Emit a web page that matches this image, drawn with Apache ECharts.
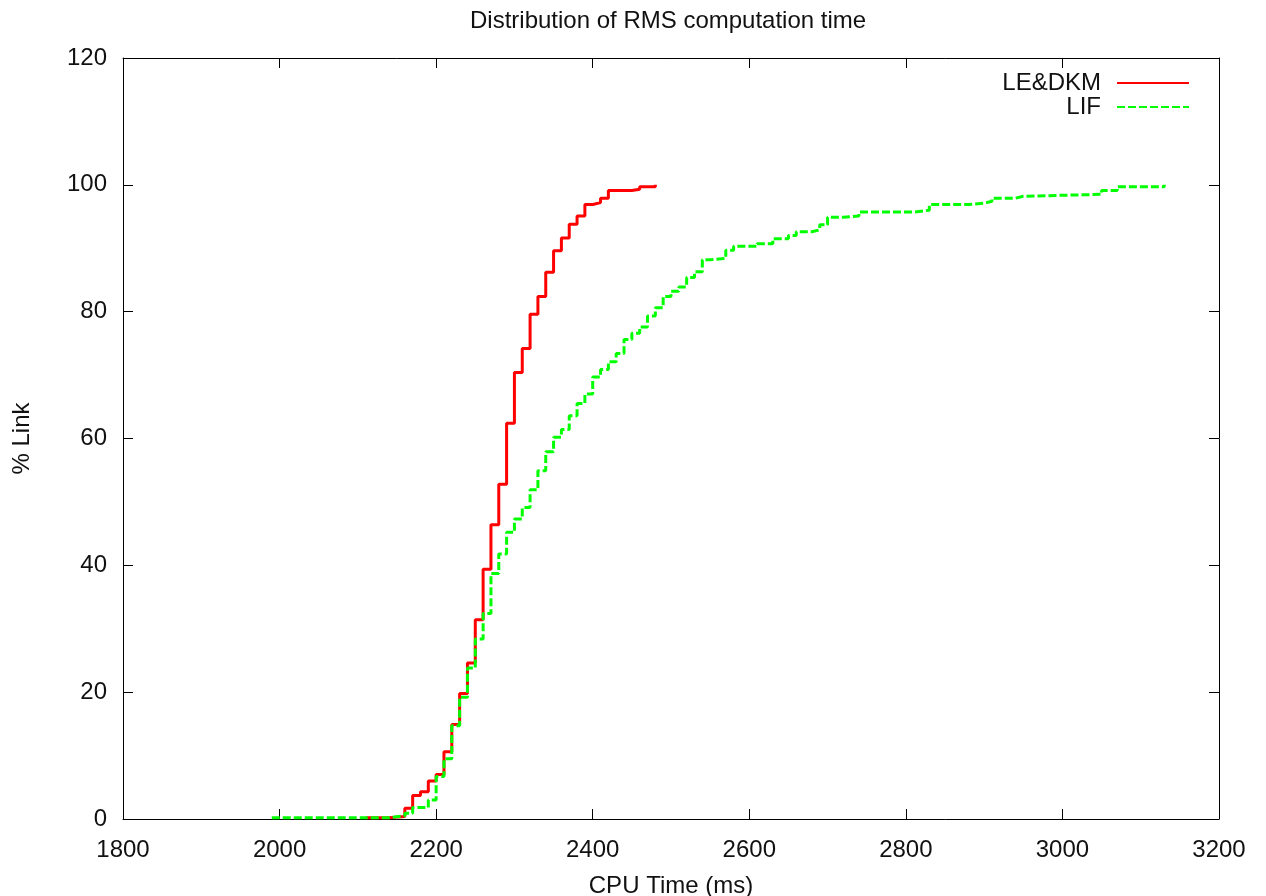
<!DOCTYPE html>
<html>
<head>
<meta charset="utf-8">
<script src="https://cdn.jsdelivr.net/npm/echarts@6/dist/echarts.min.js"></script>
<style>html,body{margin:0;padding:0;background:#fff;}#c{width:1266px;height:896px;}</style>
</head>
<body>
<div id="c"></div>
<script>
const titleText = 'Distribution of RMS computation time';
const xName = 'CPU Time (ms)';
const yName = '% Link';
const seriesNames = ['LE&DKM', 'LIF'];

const redX = [2110, 2140, 2160, 2170, 2180, 2190, 2200, 2210, 2220, 2230, 2240, 2250, 2260, 2270, 2280, 2290, 2300, 2310, 2320, 2330, 2340, 2350, 2360, 2370, 2380, 2390, 2400, 2410, 2420, 2450, 2460, 2480];
const redY = [0.2, 0.4, 1.7, 3.7, 4.3, 6.0, 7.0, 10.6, 14.9, 19.8, 24.6, 31.4, 39.4, 46.4, 52.8, 62.4, 70.4, 74.2, 79.6, 82.4, 86.2, 89.6, 91.6, 93.8, 95.1, 96.9, 97.2, 97.9, 99.1, 99.3, 99.7, 100];

const greenX = [1990, 2140, 2160, 2170, 2190, 2200, 2210, 2220, 2230, 2240, 2250, 2260, 2270, 2280, 2290, 2300, 2310, 2320, 2330, 2340, 2350, 2360, 2370, 2380, 2390, 2400, 2410, 2420, 2430, 2440, 2450, 2460, 2470, 2480, 2490, 2500, 2510, 2520, 2530, 2540, 2550, 2570, 2580, 2610, 2630, 2650, 2660, 2680, 2690, 2700, 2720, 2740, 2810, 2830, 2880, 2900, 2910, 2940, 2950, 3050, 3070, 3130];
const greenY = [0.2, 0.5, 0.9, 1.8, 3.0, 6.7, 9.5, 14.7, 19.2, 23.8, 28.4, 32.4, 38.7, 41.8, 45.2, 47.3, 49.1, 51.9, 54.9, 57.9, 60.2, 61.4, 63.6, 65.5, 67.0, 69.7, 70.9, 72.1, 73.4, 75.6, 76.6, 77.6, 79.3, 80.6, 82.4, 83.2, 83.9, 85.4, 86.3, 88.2, 88.4, 89.7, 90.3, 90.7, 91.5, 92.0, 92.6, 92.9, 93.7, 94.9, 95.1, 95.7, 96.0, 96.9, 97.1, 97.4, 97.9, 98.2, 98.5, 99.1, 99.7, 100];

const xMin = 1800, xMax = 3200, xStep = 200;
const yMin = 0, yMax = 120, yStep = 20;

const pairs = (xs, ys) => xs.map((x, i) => [x, ys[i]]);
const FONT = '"Liberation Sans", Arial, sans-serif';
const TXT = '#111';
const FS = 24;

const chart = echarts.init(document.getElementById('c'), null, {renderer: 'canvas'});

const axisCommon = {
  type: 'value',
  splitLine: {show: false},
  axisLine: {show: true, onZero: false, lineStyle: {color: '#000', width: 1}},
  axisTick: {show: true, inside: true, length: 10, lineStyle: {color: '#000', width: 1}}
};

const legendCommon = {
  orient: 'horizontal',
  right: 76,
  align: 'right',
  itemWidth: 72,
  itemHeight: 14,
  itemGap: 0,
  padding: 0,
  itemStyle: {opacity: 0},
  textStyle: {fontFamily: FONT, fontSize: FS, color: TXT, padding: [0, 11, 0, 0]}
};

chart.setOption({
  animation: false,
  backgroundColor: '#fff',
  title: {
    text: titleText,
    left: 470,
    top: 9,
    padding: 0,
    textStyle: {fontFamily: FONT, fontSize: FS, fontWeight: 'normal', color: TXT}
  },
  legend: [
    Object.assign({}, legendCommon, {top: 71, data: [seriesNames[0]]}),
    Object.assign({}, legendCommon, {top: 95, data: [seriesNames[1]]})
  ],
  grid: {left: 123, right: 47, top: 58, bottom: 77, containLabel: false, outerBoundsMode: 'none'},
  xAxis: [
    Object.assign({}, axisCommon, {
      position: 'bottom', min: xMin, max: xMax, interval: xStep,
      axisLabel: {margin: 19, fontFamily: FONT, fontSize: FS, color: TXT, formatter: v => String(v)},
      name: xName, nameLocation: 'middle', nameGap: 55,
      nameTextStyle: {fontFamily: FONT, fontSize: FS, color: TXT}
    }),
    Object.assign({}, axisCommon, {
      position: 'top', min: xMin, max: xMax, interval: xStep,
      axisLabel: {show: false}
    })
  ],
  yAxis: [
    Object.assign({}, axisCommon, {
      position: 'left', min: yMin, max: yMax, interval: yStep,
      axisLabel: {margin: 16, fontFamily: FONT, fontSize: FS, color: TXT, formatter: v => String(v)},
      name: yName, nameLocation: 'middle', nameGap: 89, nameRotate: 90,
      nameTextStyle: {fontFamily: FONT, fontSize: FS, color: TXT}
    }),
    Object.assign({}, axisCommon, {
      position: 'right', min: yMin, max: yMax, interval: yStep,
      axisLabel: {show: false}
    })
  ],
  series: [
    {
      name: seriesNames[0], type: 'line', step: 'end',
      xAxisIndex: 0, yAxisIndex: 0,
      symbol: 'none', showSymbol: false,
      color: '#ff0000',
      lineStyle: {color: '#ff0000', width: 3, type: 'solid'},
      data: pairs(redX, redY), z: 3
    },
    {
      name: seriesNames[1], type: 'line', step: 'end',
      xAxisIndex: 0, yAxisIndex: 0,
      symbol: 'none', showSymbol: false,
      color: '#00ff00',
      lineStyle: {color: '#00ff00', width: 3, type: [8, 3]},
      data: pairs(greenX, greenY), z: 4
    }
  ]
});
</script>
</body>
</html>
